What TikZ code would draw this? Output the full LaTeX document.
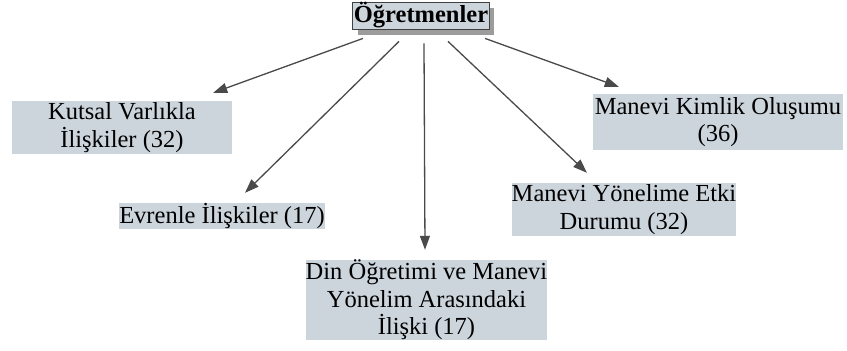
\documentclass[tikz,border=0pt]{standalone}
\usepackage{fontspec}
\setmainfont{Liberation Serif}
\usetikzlibrary{arrows.meta,calc,shadows}
\definecolor{boxfill}{HTML}{CDD5DC}
\definecolor{arrowc}{HTML}{4A4A4A}
\definecolor{shadowc}{HTML}{9C9C9C}
\tikzset{
  catbox/.style={fill=boxfill, inner sep=0pt, align=center, text=black,
    font=\fontsize{24.5}{27.5}\selectfont},
  topbox/.style={fill=boxfill, draw=black!75, line width=0.8pt, inner xsep=1pt, inner ysep=0pt,
    font=\fontsize{24.5}{27}\selectfont\bfseries,
    drop shadow={shadow xshift=5pt, shadow yshift=-5.5pt, fill=shadowc, opacity=1}},
  link/.style={draw=arrowc, line width=1.3pt, -{Triangle[length=14pt,width=10pt]}}
}
\begin{document}
\begin{tikzpicture}[x=1pt,y=-1pt]
\useasboundingbox (0,0) rectangle (847,351);
\node[topbox, minimum height=27pt] (top) at (421,15.5) {Öğretmenler};
\node[catbox, minimum width=220pt, minimum height=53pt] (kutsal) at (122,127.5) {Kutsal Varlıkla\\İlişkiler (32)};
\node[catbox, minimum width=198pt, minimum height=26pt] (evren) at (222,216) {Evrenle İlişkiler (17)};
\node[catbox, minimum width=233pt, minimum height=80pt] (din) at (426.5,300) {Din Öğretimi ve Manevi\\Yönelim Arasındaki\\İlişki (17)};
\node[catbox, minimum width=214pt, minimum height=53pt] (yon) at (624,209.5) {Manevi Yönelime Etki\\Durumu (32)};
\node[catbox, minimum width=250pt, minimum height=56pt] (kimlik) at (718,122) {Manevi Kimlik Oluşumu\\(36)};
\coordinate (s1) at ($(top.south)+(-58,9)$);
\coordinate (s2) at ($(top.south)+(-22,12)$);
\coordinate (s3) at ($(top.south)+(3,14)$);
\coordinate (s4) at ($(top.south)+(27,12)$);
\coordinate (s5) at ($(top.south)+(64,9)$);
\draw[link] (s1) -- ($(kutsal.north east)+(-19,-8)$);
\draw[link] (s2) -- ($(evren.north)+(23,-10)$);
\draw[link] (s3) -- ($(din.north)+(-1.5,-10)$);
\draw[link] (s4) -- ($(yon.north)+(-37,-10)$);
\draw[link] (s5) -- ($(kimlik.north west)+(26,-7)$);
\end{tikzpicture}
\end{document}
